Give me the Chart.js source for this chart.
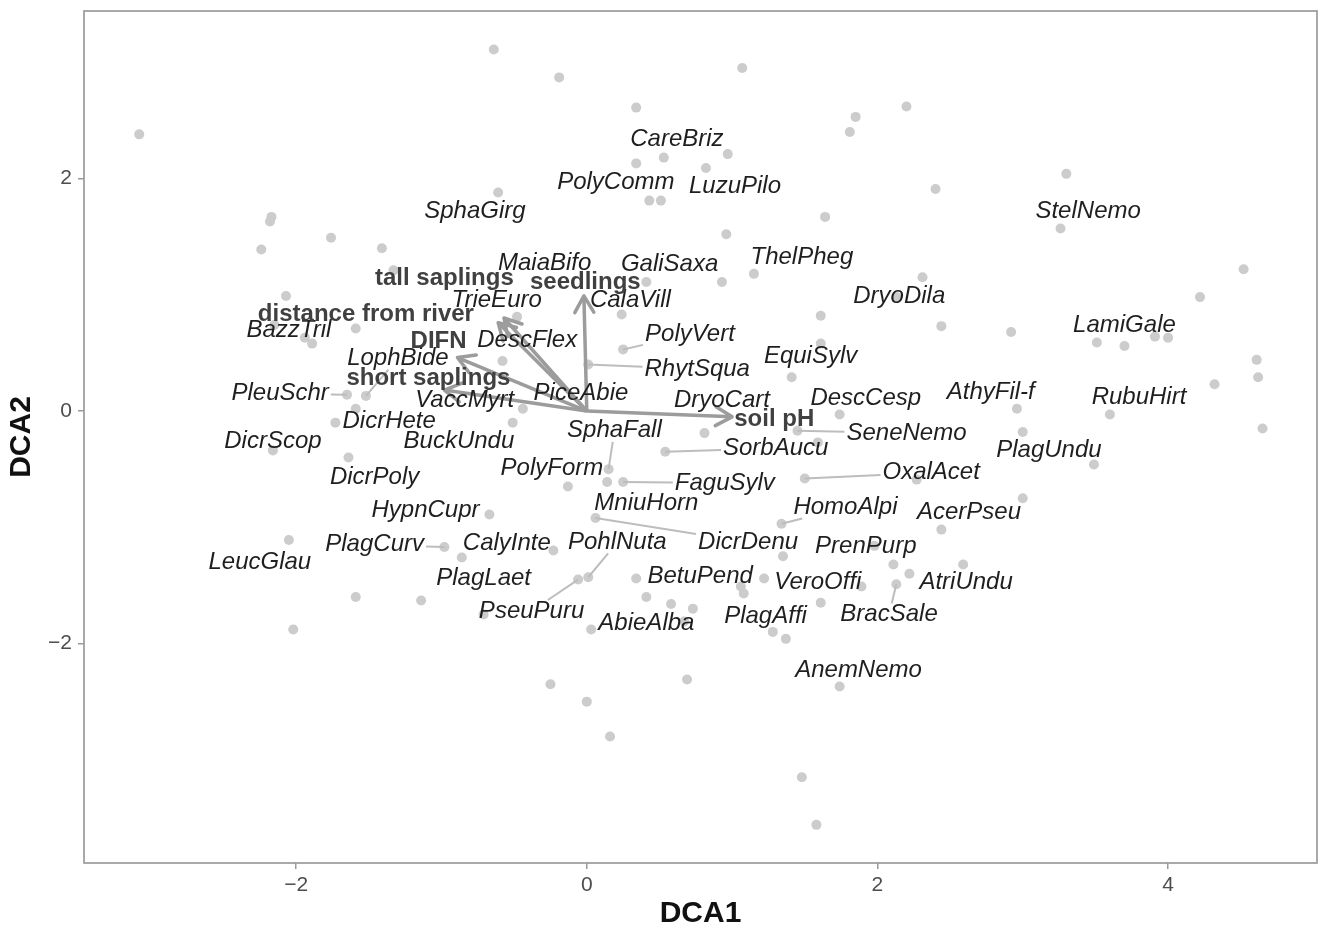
<!DOCTYPE html>
<html>
<head>
<meta charset="utf-8">
<title>DCA ordination</title>
<script src="https://cdn.jsdelivr.net/npm/chart.js@4.4.1/dist/chart.umd.min.js"></script>
<style>
  html, body { margin: 0; padding: 0; background: #ffffff; }
  #ordination { display: block; }
</style>
</head>
<body>
<canvas id="ordination" width="1322" height="927"></canvas>
<script>
// axis ticks
const xTicks = [-2, 0, 2, 4];
const yTicks = [-2, 0, 2];

// all sample / species scores (grey dots)
const pointX = [-0.64, -3.08, -0.61, -2.17, -2.18, -1.76, -2.24, -1.41, -1.33, -2.07,
  -0.19, 1.07, 0.34, 1.85, 2.20, 1.81, 0.34, 0.53, 0.97, 0.82,
  0.43, 0.51, 1.64, 0.96, 1.15, 0.93, 0.41, 2.40, 3.30, 3.26,
  4.52, 2.31, 4.22, -2.15, -1.94, -1.89, -1.59, -1.65, -1.52, -1.59,
  -1.73, -2.16, -1.64, -0.67, -2.05, -0.98, -0.86, 0.24, -0.48, 1.61,
  0.25, -0.58, 1.61, 0.01, 1.41, -0.44, -0.51, 0.81, 1.74, 1.45,
  1.59, 0.15, 0.54, -0.13, 0.14, 0.25, 1.50, 0.06, 1.34, -0.23,
  1.35, 1.98, 2.11, 2.22, 2.44, 2.92, 3.51, 3.70, 3.91, 4.00,
  4.61, 4.62, 4.32, 4.65, 2.96, 3.00, 3.60, 3.49, 2.27, 3.00,
  2.44, 2.59, -1.59, -1.14, -2.02, -0.71, -0.06, 0.01, 0.34, 1.22,
  1.89, 2.13, 0.41, 0.58, 0.73, 0.67, 1.06, 1.08, 1.61, 0.03,
  1.28, 1.37, 1.74, -0.25, 0.69, 0.00, 0.16, 1.48, 1.58, 2.13];
const pointY = [3.11, 2.38, 1.88, 1.67, 1.63, 1.49, 1.39, 1.40, 1.21, 0.99,
  2.87, 2.95, 2.61, 2.53, 2.62, 2.40, 2.13, 2.18, 2.21, 2.09,
  1.81, 1.81, 1.67, 1.52, 1.18, 1.11, 1.11, 1.91, 2.04, 1.57,
  1.22, 1.15, 0.98, 0.74, 0.63, 0.58, 0.71, 0.14, 0.13, 0.02,
  -0.10, -0.34, -0.40, -0.89, -1.11, -1.17, -1.26, 0.83, 0.81, 0.82,
  0.53, 0.43, 0.58, 0.40, 0.29, 0.02, -0.10, -0.19, -0.03, -0.17,
  -0.27, -0.50, -0.35, -0.65, -0.61, -0.61, -0.58, -0.92, -0.97, -1.20,
  -1.25, -1.16, -1.32, -1.40, 0.73, 0.68, 0.59, 0.56, 0.64, 0.63,
  0.44, 0.29, 0.23, -0.15, 0.02, -0.18, -0.03, -0.46, -0.59, -0.75,
  -1.02, -1.32, -1.60, -1.63, -1.88, -1.75, -1.45, -1.43, -1.44, -1.44,
  -1.51, -1.49, -1.60, -1.66, -1.70, -1.81, -1.51, -1.57, -1.65, -1.88,
  -1.90, -1.96, -2.37, -2.35, -2.31, -2.50, -2.80, -3.15, -3.56, 0.98];

// species labels (repelled positions) and the point each leader line goes to
const speciesNames = ['SphaGirg', 'CareBriz', 'PolyComm', 'LuzuPilo', 'ThelPheg', 'GaliSaxa', 'MaiaBifo',
  'StelNemo', 'DryoDila', 'TrieEuro', 'CalaVill', 'DescFlex', 'PolyVert', 'BazzTril', 'LophBide',
  'RhytSqua', 'EquiSylv', 'LamiGale', 'PiceAbie', 'PleuSchr', 'VaccMyrt', 'DryoCart', 'DescCesp',
  'AthyFil-f', 'RubuHirt', 'DicrHete', 'SphaFall', 'SeneNemo', 'DicrScop', 'BuckUndu', 'SorbAucu',
  'PlagUndu', 'PolyForm', 'DicrPoly', 'OxalAcet', 'FaguSylv', 'MniuHorn', 'HomoAlpi', 'HypnCupr',
  'AcerPseu', 'DicrDenu', 'PlagCurv', 'CalyInte', 'PohlNuta', 'PrenPurp', 'LeucGlau', 'PlagLaet',
  'BetuPend', 'VeroOffi', 'AtriUndu', 'PseuPuru', 'AbieAlba', 'PlagAffi', 'BracSale', 'AnemNemo'];
const speciesLabelX = [-0.77, 0.62, 0.20, 1.02, 1.48, 0.57, -0.29,
  3.45, 2.15, -0.62, 0.30, -0.41, 0.71, -2.05, -1.30,
  0.76, 1.54, 3.70, -0.04, -2.11, -0.84, 0.93, 1.92,
  2.78, 3.80, -1.36, 0.19, 2.20, -2.16, -0.88, 1.30,
  3.18, -0.24, -1.46, 2.37, 0.95, 0.41, 1.78, -1.11,
  2.63, 1.11, -1.46, -0.55, 0.21, 1.92, -2.25, -0.71,
  0.78, 1.59, 2.61, -0.38, 0.41, 1.23, 2.08, 1.87];
const speciesLabelY = [1.72, 2.34, 1.97, 1.93, 1.32, 1.26, 1.27,
  1.72, 0.99, 0.95, 0.95, 0.61, 0.66, 0.69, 0.45,
  0.36, 0.47, 0.74, 0.15, 0.15, 0.09, 0.09, 0.11,
  0.16, 0.12, -0.09, -0.17, -0.19, -0.26, -0.26, -0.32,
  -0.34, -0.49, -0.57, -0.53, -0.62, -0.79, -0.83, -0.85,
  -0.87, -1.13, -1.15, -1.14, -1.13, -1.16, -1.30, -1.44,
  -1.42, -1.47, -1.47, -1.72, -1.83, -1.77, -1.75, -2.23];
const speciesLinkX = [null, null, null, null, null, null, null,
  null, null, null, null, null, 0.25, null, -1.52,
  0.01, null, null, null, -1.65, null, null, null,
  null, null, null, 0.15, 1.45, null, null, 0.54,
  null, null, null, 1.50, 0.25, null, 1.34, null,
  null, 0.06, -0.98, null, 0.01, null, null, null,
  null, null, null, -0.06, null, null, 2.13, null];
const speciesLinkY = [null, null, null, null, null, null, null,
  null, null, null, null, null, 0.53, null, 0.13,
  0.40, null, null, null, 0.14, null, null, null,
  null, null, null, -0.50, -0.17, null, null, -0.35,
  null, null, null, -0.58, -0.61, null, -0.97, null,
  null, -0.92, -1.17, null, -1.43, null, null, null,
  null, null, null, -1.45, null, null, -1.49, null];

// fitted environmental vectors
const envNames = ['tall saplings', 'seedlings', 'distance from river', 'DIFN', 'short saplings', 'soil pH'];
const envX = [-0.57, -0.02, -0.61, -0.89, -0.98, 1.00];
const envY = [0.80, 0.99, 0.76, 0.46, 0.18, -0.05];
const envLabelX = [-0.98, -0.01, -1.52, -1.02, -1.09, 1.29];
const envLabelY = [1.14, 1.11, 0.83, 0.60, 0.28, -0.07];

const FONT = '"Liberation Sans", Arial, Helvetica, sans-serif';
Chart.defaults.font.family = FONT;

const fmt = v => (v < 0 ? '\u2212' + Math.abs(v) : String(v));

const overlay = {
  id: 'overlay',
  afterDatasetsDraw(chart) {
    const { ctx } = chart;
    const x = chart.scales.x, y = chart.scales.y;
    ctx.save();

    // leader segments
    ctx.font = 'italic 24px ' + FONT;
    ctx.strokeStyle = '#bdbdbd';
    ctx.lineWidth = 2;
    speciesNames.forEach((name, i) => {
      if (speciesLinkX[i] === null) return;
      const lx = x.getPixelForValue(speciesLabelX[i]);
      const ly = y.getPixelForValue(speciesLabelY[i]);
      const px = x.getPixelForValue(speciesLinkX[i]);
      const py = y.getPixelForValue(speciesLinkY[i]);
      const hw = ctx.measureText(name).width / 2 + 2, hh = 11;
      const dx = px - lx, dy = py - ly;
      const t = Math.min(dx ? hw / Math.abs(dx) : Infinity, dy ? hh / Math.abs(dy) : Infinity);
      if (t >= 1) return;
      ctx.beginPath();
      ctx.moveTo(lx + dx * t, ly + dy * t);
      ctx.lineTo(px, py);
      ctx.stroke();
    });

    // arrow heads
    const ox = x.getPixelForValue(0), oy = y.getPixelForValue(0);
    ctx.strokeStyle = '#9c9c9c';
    ctx.lineWidth = 3.5;
    ctx.lineCap = 'round';
    ctx.lineJoin = 'round';
    envNames.forEach((n, i) => {
      const tx = x.getPixelForValue(envX[i]), ty = y.getPixelForValue(envY[i]);
      const a = Math.atan2(ty - oy, tx - ox);
      const len = 19, spread = Math.PI / 6;
      ctx.beginPath();
      ctx.moveTo(tx - len * Math.cos(a - spread), ty - len * Math.sin(a - spread));
      ctx.lineTo(tx, ty);
      ctx.lineTo(tx - len * Math.cos(a + spread), ty - len * Math.sin(a + spread));
      ctx.stroke();
    });

    // labels
    ctx.textAlign = 'center';
    ctx.textBaseline = 'middle';
    ctx.fillStyle = '#1f1f1f';
    ctx.font = 'italic 24px ' + FONT;
    speciesNames.forEach((name, i) => {
      ctx.fillText(name, x.getPixelForValue(speciesLabelX[i]), y.getPixelForValue(speciesLabelY[i]));
    });
    ctx.fillStyle = '#404040';
    ctx.font = 'bold 24px ' + FONT;
    envNames.forEach((name, i) => {
      ctx.fillText(name, x.getPixelForValue(envLabelX[i]), y.getPixelForValue(envLabelY[i]));
    });
    ctx.restore();
  },
  afterDraw(chart) {
    const { ctx, chartArea: a } = chart;
    ctx.save();
    ctx.strokeStyle = '#9a9a9a';
    ctx.lineWidth = 1.7;
    ctx.strokeRect(a.left, a.top, a.right - a.left, a.bottom - a.top);
    ctx.restore();
  }
};

const arrowSets = envNames.map((name, i) => ({
  type: 'line',
  label: name,
  data: [{ x: 0, y: 0 }, { x: envX[i], y: envY[i] }],
  borderColor: '#9c9c9c',
  borderWidth: 3.5,
  pointRadius: 0,
  fill: false,
  order: 1
}));

const config = {
  type: 'scatter',
  data: {
    datasets: [
      {
        label: 'scores',
        data: pointX.map((v, i) => ({ x: v, y: pointY[i] })),
        backgroundColor: '#cccccc',
        borderWidth: 0,
        pointRadius: 5,
        order: 2
      },
      ...arrowSets
    ]
  },
  options: {
    responsive: false,
    animation: false,
    devicePixelRatio: 1,
    layout: { padding: { top: 11, right: 2, left: 0, bottom: 0 } },
    plugins: { legend: { display: false }, tooltip: { enabled: false } },
    scales: {
      x: {
        type: 'linear',
        min: -3.46,
        max: 5.025,
        afterBuildTicks: s => { s.ticks = xTicks.map(v => ({ value: v })); },
        afterFit: s => { s.height = 64; s.paddingLeft = 0; s.paddingRight = 0; },
        grid: { drawOnChartArea: false, drawTicks: true, tickLength: 6, color: '#9a9a9a', lineWidth: 1.5 },
        border: { display: false },
        ticks: { font: { size: 21 }, color: '#4d4d4d', padding: 4, maxRotation: 0, callback: v => fmt(v) },
        title: { display: true, text: 'DCA1', color: '#111111', font: { size: 30, weight: 'bold', lineHeight: 0.9 }, padding: { top: 0, bottom: 0 } }
      },
      y: {
        type: 'linear',
        min: -3.888,
        max: 3.441,
        afterBuildTicks: s => { s.ticks = yTicks.map(v => ({ value: v })); },
        afterFit: s => { s.width = 84; s.paddingTop = 0; s.paddingBottom = 0; },
        grid: { drawOnChartArea: false, drawTicks: true, tickLength: 6, color: '#9a9a9a', lineWidth: 1.5 },
        border: { display: false },
        ticks: { font: { size: 21 }, color: '#4d4d4d', padding: 6, callback: v => fmt(v) },
        title: { display: true, text: 'DCA2', color: '#111111', font: { size: 30, weight: 'bold', lineHeight: 1 }, padding: { top: 7, bottom: 0 } }
      }
    }
  },
  plugins: [overlay]
};

const ordination = new Chart(document.getElementById('ordination'), config);
</script>
</body>
</html>
